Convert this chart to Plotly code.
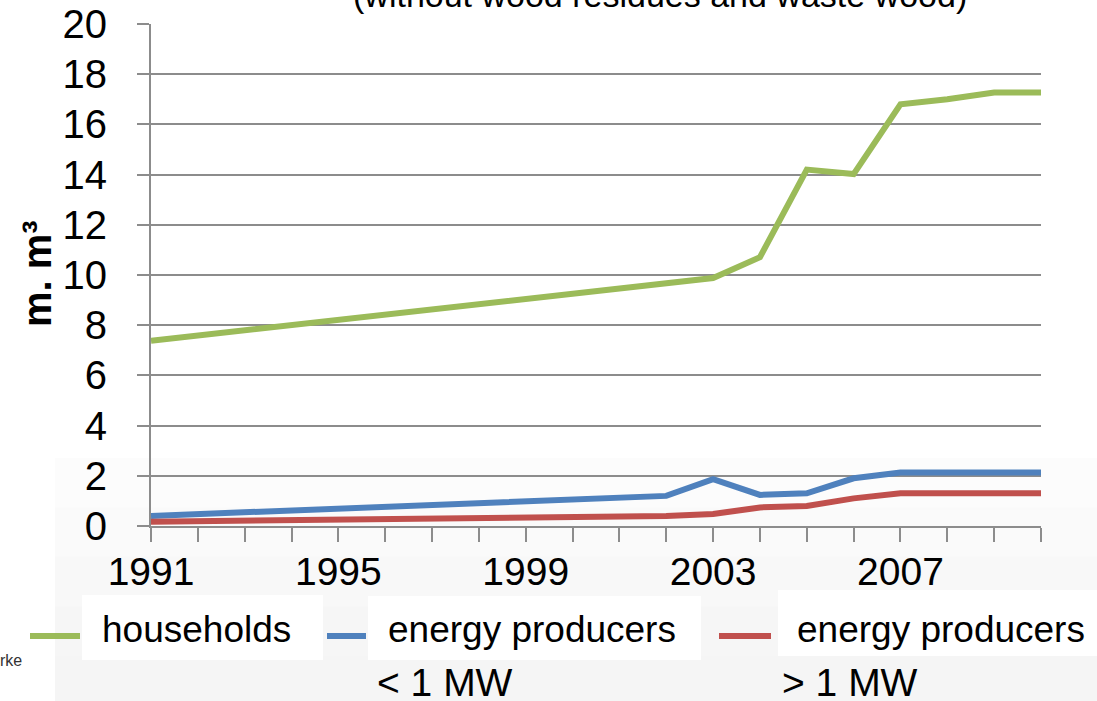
import plotly.graph_objects as go

years = [1991, 1992, 1993, 1994, 1995, 1996, 1997, 1998, 1999, 2000,
         2001, 2002, 2003, 2004, 2005, 2006, 2007, 2008, 2009, 2010]
households = [7.38, 7.59, 7.80, 8.01, 8.22, 8.43, 8.64, 8.85, 9.06, 9.27,
              9.48, 9.68, 9.88, 10.71, 14.2, 14.02, 16.8, 17.0, 17.27, 17.27]
producers_small = [0.40, 0.47, 0.55, 0.62, 0.69, 0.76, 0.84, 0.91, 0.98, 1.05,
                   1.13, 1.20, 1.87, 1.24, 1.30, 1.90, 2.13, 2.13, 2.13, 2.13]
producers_large = [0.17, 0.19, 0.21, 0.23, 0.25, 0.27, 0.29, 0.31, 0.33, 0.35,
                   0.37, 0.40, 0.48, 0.74, 0.80, 1.10, 1.30, 1.30, 1.30, 1.30]
x_tick_labels = [1991, 1995, 1999, 2003, 2007]
series_names = ["households", "energy producers", "energy producers"]
series_sub = ["", "< 1 MW", "> 1 MW"]
colors = ["#9BBB59", "#4F81BD", "#C0504D"]
title_text = "(without wood residues and waste wood)"
y_title = "m. m³"

FONT = "Liberation Sans, Arial, sans-serif"
W, H = 1097, 701
L, R, T, B = 151, 1041, 24, 526


def px(x):
    return (x - L) / (R - L)


def py(y):
    return (B - y) / (B - T)


fig = go.Figure()
for vals, name, col in zip([households, producers_small, producers_large], series_names, colors):
    fig.add_trace(go.Scatter(x=years, y=vals, mode="lines", name=name,
                             line=dict(color=col, width=6), showlegend=False))

shapes = []
# light gray slide background band (soft vertical gradient)
band_cols = ["#fcfcfc", "#fafafa", "#f8f8f8", "#f6f6f6", "#f5f5f5"]
band_top, band_bot = 458, 705
step = (band_bot - band_top) / len(band_cols)
for k, c in enumerate(band_cols):
    shapes.append(dict(type="rect", xref="paper", yref="paper", x0=px(55), x1=px(1100),
                       y0=py(band_top + (k + 1) * step + 0.5), y1=py(band_top + k * step),
                       fillcolor=c, line=dict(width=0), layer="below"))
# legend boxes and swatches
boxes = [(82, 323, 595, 660), (368, 701, 596, 660), (778, 1097, 590, 656)]
swatches = [(30, 80, 636), (327, 366, 636), (719, 771, 636)]
text_cx = [196, 532, 941]
sub_cx = [None, 445, 850]
annotations = []
for i in range(3):
    x0, x1, y0, y1 = boxes[i]
    shapes.append(dict(type="rect", xref="paper", yref="paper", x0=px(x0), x1=px(x1),
                       y0=py(y1), y1=py(y0), fillcolor="white", line=dict(width=0), layer="above"))
    sx0, sx1, sy = swatches[i]
    shapes.append(dict(type="line", xref="paper", yref="paper", x0=px(sx0), x1=px(sx1),
                       y0=py(sy), y1=py(sy), line=dict(color=colors[i], width=6), layer="above"))
    annotations.append(dict(text=series_names[i], xref="paper", yref="paper", x=px(text_cx[i]),
                            y=py(629), xanchor="center", yanchor="middle", showarrow=False,
                            font=dict(family=FONT, size=37, color="black")))
    if series_sub[i]:
        annotations.append(dict(text=series_sub[i], xref="paper", yref="paper", x=px(sub_cx[i]),
                                y=py(682), xanchor="center", yanchor="middle", showarrow=False,
                                font=dict(family=FONT, size=39, color="black")))

annotations.append(dict(text=title_text, xref="paper", yref="paper", x=px(660), y=py(-5),
                        xanchor="center", yanchor="middle", showarrow=False,
                        font=dict(family=FONT, size=34, color="black")))
annotations.append(dict(text="<b>" + y_title + "</b>", xref="paper", yref="paper", x=px(37), y=py(274),
                        xanchor="center", yanchor="middle", showarrow=False, textangle=-90,
                        font=dict(family=FONT, size=40, color="black")))
annotations.append(dict(text="rke", xref="paper", yref="paper", x=px(24), y=py(660),
                        xanchor="right", yanchor="middle", showarrow=False,
                        font=dict(family=FONT, size=16, color="#333")))

fig.update_layout(
    width=W, height=H, autosize=False,
    margin=dict(l=L, r=W - R, t=T, b=H - B, pad=0, autoexpand=False),
    paper_bgcolor="white", plot_bgcolor="rgba(0,0,0,0)",
    font=dict(family=FONT, color="black"),
    shapes=shapes, annotations=annotations,
    xaxis=dict(range=[1991, 2010], tickvals=x_tick_labels, ticktext=[str(v) for v in x_tick_labels],
               ticks="outside", ticklen=14, tickwidth=2, tickcolor="#8c8c8c",
               minor=dict(dtick=1, tick0=1991, ticks="outside", ticklen=14, tickwidth=2,
                          tickcolor="#8c8c8c", showgrid=False),
               showline=True, linecolor="#8c8c8c", linewidth=2, showgrid=False, zeroline=False,
               automargin=False,
               tickfont=dict(family=FONT, size=39, color="black"), ticklabelstandoff=-4),
    yaxis=dict(range=[0, 20], dtick=2, ticks="outside", ticklen=12, tickwidth=2, tickcolor="#8c8c8c",
               showline=True, linecolor="#8c8c8c", linewidth=2, showgrid=True, gridcolor="#8c8c8c",
               gridwidth=2, zeroline=False, automargin=False,
               tickfont=dict(family=FONT, size=40, color="black"), ticklabelstandoff=22),
)

fig.write_html("out.html")
